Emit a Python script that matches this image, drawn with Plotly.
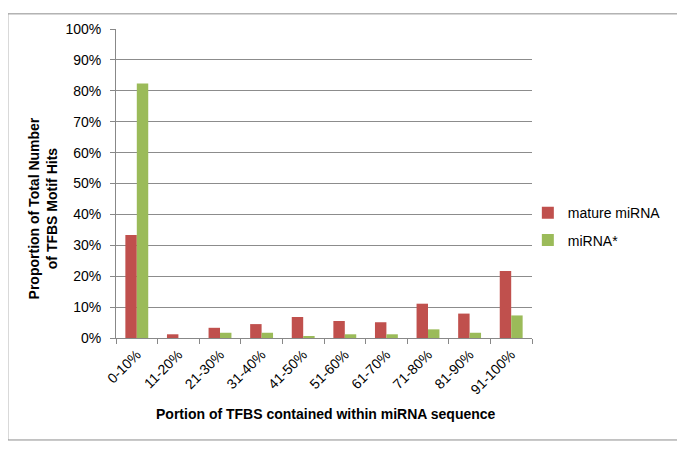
import plotly.graph_objects as go

categories = ["0-10%", "11-20%", "21-30%", "31-40%", "41-50%",
              "51-60%", "61-70%", "71-80%", "81-90%", "91-100%"]
mature_mirna = [33.3, 1.2, 3.3, 4.5, 6.8, 5.5, 5.1, 11.1, 7.9, 21.7]
mirna_star = [82.4, 0.0, 1.7, 1.7, 0.5, 1.2, 1.2, 2.8, 1.7, 7.3]
y_ticks = [0, 10, 20, 30, 40, 50, 60, 70, 80, 90, 100]
y_tick_labels = [f"{v}%" for v in y_ticks]

font_family = "Liberation Sans, Arial, sans-serif"

fig = go.Figure()
fig.add_trace(go.Bar(x=categories, y=mature_mirna, name="mature miRNA",
                     legendgroup="a",
                     marker=dict(color="#C0504D", line=dict(width=0))))
fig.add_trace(go.Bar(x=categories, y=mirna_star, name="miRNA*",
                     legendgroup="b",
                     marker=dict(color="#9BBB59", line=dict(width=0))))

fig.update_layout(
    width=685, height=452,
    margin=dict(l=108, r=161, t=21, b=122, autoexpand=False),
    paper_bgcolor="white", plot_bgcolor="white",
    barmode="group", bargap=0.45, bargroupgap=0,
    font=dict(family=font_family, size=14, color="black"),
    showlegend=True,
    legend=dict(x=0.99, y=0.36, xanchor="left", yanchor="middle",
                font=dict(size=14), bgcolor="rgba(0,0,0,0)",
                traceorder="grouped", tracegroupgap=6,
                itemwidth=30),
    xaxis=dict(
        type="category", tickangle=-45, tickson="boundaries",
        ticks="outside", ticklen=5, tickcolor="#888888",
        showline=True, linecolor="#888888", linewidth=1,
        showgrid=False, automargin=False,
        tickfont=dict(size=14), ticklabelstandoff=2,
    ),
    yaxis=dict(
        range=[0, 100], tickvals=y_ticks, ticktext=y_tick_labels,
        ticks="outside", ticklen=5, tickcolor="#888888",
        showline=True, linecolor="#888888", linewidth=1,
        showgrid=True, gridcolor="#8c8c8c", gridwidth=1,
        zeroline=False, automargin=False,
        tickfont=dict(size=14), ticklabelstandoff=6,
    ),
    annotations=[
        dict(text="<b>Proportion of Total Number<br>of TFBS Motif Hits</b>",
             xref="paper", yref="paper", x=-0.175, y=0.42,
             xanchor="center", yanchor="middle", textangle=-90,
             showarrow=False, font=dict(size=14)),
        dict(text="<b>Portion of TFBS contained within miRNA sequence</b>",
             xref="paper", yref="paper", x=0.506, y=-0.246,
             xanchor="center", yanchor="middle",
             showarrow=False, font=dict(size=14)),
    ],
    shapes=[dict(type="rect", xref="paper", yref="paper",
                 x0=-0.26, x1=1.351, y0=-0.330, y1=1.049,
                 line=dict(color="#8c8c8c", width=1), fillcolor="rgba(0,0,0,0)",
                 layer="below")],
)

fig.write_html("out.html")
